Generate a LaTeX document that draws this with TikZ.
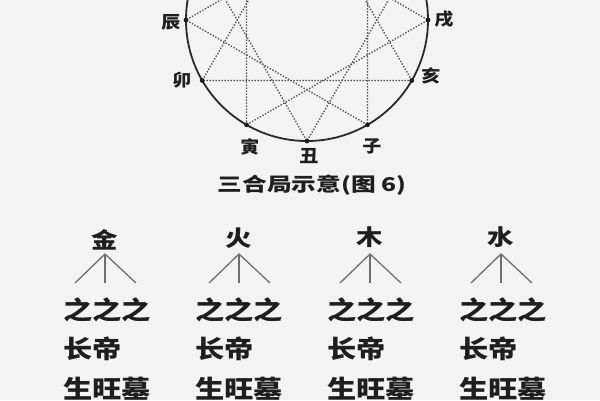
\documentclass[tikz,border=0pt]{standalone}
\usepackage{fontspec}
\usepackage{graphicx}
\newfontfamily\cjk{Noto Sans CJK SC}
\newcommand{\stretchx}[2]{\scalebox{#1}[1]{#2}}
\definecolor{bgcol}{HTML}{F3F3F3}
\definecolor{inkcol}{HTML}{1E1E1E}
\definecolor{dotcol}{HTML}{555555}
\definecolor{stemcol}{HTML}{6E6E6E}
\begin{document}
\begin{tikzpicture}[x=1pt,y=-1pt,
  every node/.style={inner sep=0pt,text=inkcol},
  ring/.style={draw=inkcol!95,line width=1.8pt},
  tri/.style={draw=dotcol,line width=1.4pt,dash pattern=on 1.4pt off 1.6pt},
  vdot/.style={fill=inkcol,draw=none},
  lbl/.style={font=\cjk\bfseries\fontsize{17}{17}\selectfont},
  ttl/.style={font=\cjk\bfseries\fontsize{19}{19}\selectfont},
  toptxt/.style={font=\cjk\bfseries\fontsize{22}{22}\selectfont},
  rowtxt/.style={font=\cjk\bfseries\fontsize{25}{25}\selectfont,anchor=west},
  stem/.style={draw=stemcol,line width=1.3pt}]
\fill[bgcol] (0,0) rectangle (600,400);
\useasboundingbox (0,0) rectangle (600,400);
\begin{scope}
\clip (0,0) rectangle (600,400);
\coordinate (O) at (307,20);
\foreach \n/\a in {zi/60, chou/90, yin/120, mao/150, chen/180, si/210, wu/240, wei/270, shen/300, you/330, xu/0, hai/30}{
  \path (O) ++(\a:121) coordinate (\n);
}
% triangles of the three harmonies
\draw[tri] (shen) -- (zi) -- (chen) -- cycle;
\draw[tri] (hai) -- (mao) -- (wei) -- cycle;
\draw[tri] (yin) -- (wu) -- (xu) -- cycle;
\draw[tri] (si) -- (you) -- (chou) -- cycle;
\draw[ring] (O) circle[radius=121];
\foreach \n in {zi,chou,yin,mao,chen,si,wu,wei,shen,you,xu,hai}{
  \fill[vdot] (\n) circle[radius=2.4];
}
% branch labels
\node[lbl] (lchen) at (171,22) {\stretchx{1.12}{辰}};
\node[lbl] (lmao)  at (182,80) {\stretchx{1.12}{卯}};
\node[lbl] (lyin)  at (250,147) {\stretchx{1.12}{寅}};
\node[lbl] (lchou) at (309,156) {\stretchx{1.12}{丑}};
\node[lbl] (lzi)   at (372,146) {\stretchx{1.12}{子}};
\node[lbl] (lhai)  at (431,76) {\stretchx{1.12}{亥}};
\node[lbl] (lxu)   at (444,19) {\stretchx{1.12}{戌}};
% title
\node[ttl] (title) at (312,185) {\stretchx{1.3}{三合局示意(图 6)}};
% four groups
\foreach \nm/\ch/\tx/\ty/\lx in {jin/金/105/240/63, huo/火/239/238/195, mu/木/370/237/327, shui/水/501/237/459}{
  \node[toptxt] (\nm) at (\tx,\ty) {\stretchx{1.2}{\ch}};
  \coordinate (\nm-a) at (\tx,254);
  \coordinate (\nm-l) at (\tx-30,283);
  \coordinate (\nm-m) at (\tx,283);
  \coordinate (\nm-r) at (\tx+31,283);
  \draw[stem] (\nm-l) -- (\nm-a) -- (\nm-r);
  \draw[stem] (\nm-a) -- (\nm-m);
  \node[rowtxt] (\nm-r1) at (\lx,310) {\stretchx{1.17}{之之之}};
  \node[rowtxt] (\nm-r2) at (\lx,349) {\stretchx{1.17}{长帝}};
  \node[rowtxt] (\nm-r3) at (\lx,389) {\stretchx{1.17}{生旺墓}};
}
\end{scope}
\end{tikzpicture}
\end{document}
